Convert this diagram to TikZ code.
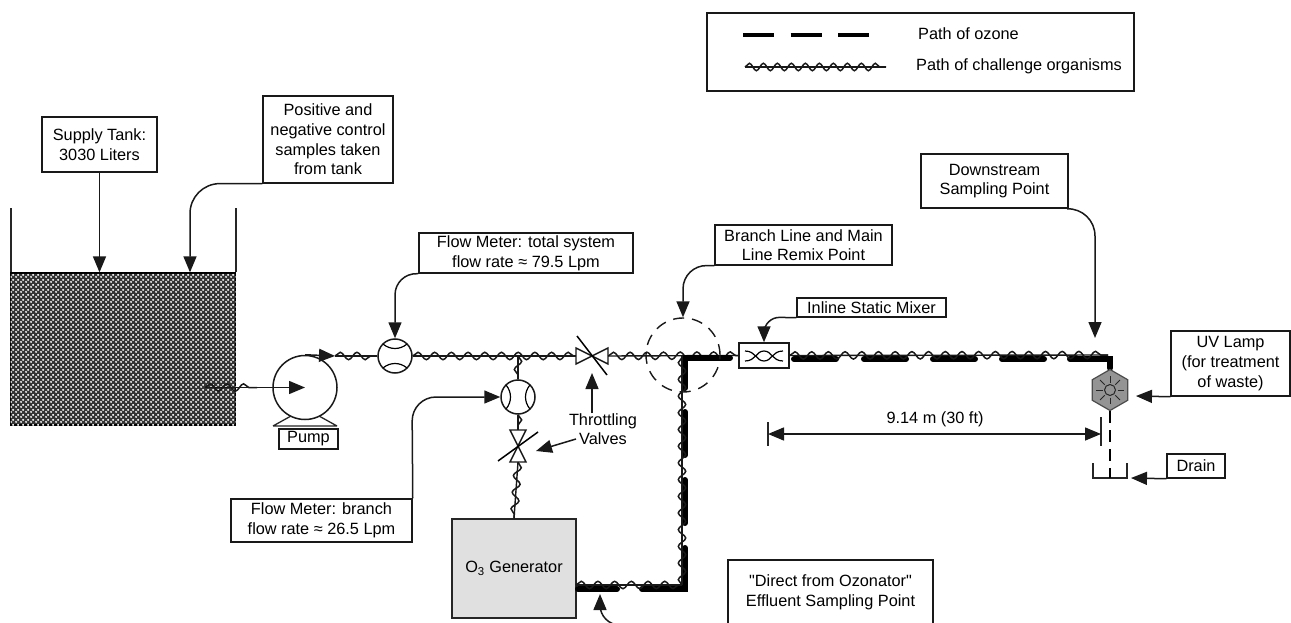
\documentclass[tikz,border=0pt]{standalone}
\usepackage{fontspec}
\setmainfont{Liberation Sans}
\newfontfamily\plainq{Liberation Sans}
\usetikzlibrary{arrows.meta,decorations.pathmorphing,patterns,shapes.geometric}
\pgfdeclarepatternformonly{tankchecks}{\pgfpointorigin}{\pgfqpoint{5pt}{5pt}}{\pgfqpoint{5pt}{5pt}}{%
  \pgfpathcircle{\pgfqpoint{1.25pt}{1.25pt}}{1.3pt}%
  \pgfpathcircle{\pgfqpoint{3.75pt}{3.75pt}}{1.3pt}%
  \pgfusepath{fill}}
\tikzset{
  lbl/.style={font=\fontsize{16.3}{19.6}\selectfont,align=center,inner sep=0pt,text=black},
  box/.style={lbl,draw=black!90,line width=1.5pt},
  arr/.style={line width=1.5pt,draw=black!90,-{Triangle[length=16pt,width=13pt]}},
  thinline/.style={line width=1.3pt,draw=black!85},
  wave/.style={line width=1.4pt,draw=black!90,postaction={draw,line width=1.5pt,decorate,decoration={snake,segment length=#1,amplitude=3.7pt}}},
  wave/.default=16.7pt,
  ozone/.style={line width=6pt,draw=black,line cap=round},
  valve/.style={line width=1.4pt,draw=black!90,fill=white},
  meter/.style={circle,draw=black!90,line width=1.5pt,fill=white,minimum size=34pt,inner sep=0pt},
}
\begin{document}
\begin{tikzpicture}[x=1pt,y=-1pt]
\useasboundingbox[fill=white] (0,0) rectangle (1291,623);
% legend
\node[box,minimum width=427pt,minimum height=78pt] (legend) at (920.5,52) {};
\coordinate (l1a) at (743,35); \coordinate (l1b) at (869,35);
\draw[line width=4.5pt,draw=black,dash pattern=on 31pt off 16.5pt] (l1a) -- (l1b);
\coordinate (l2a) at (745,67); \coordinate (l2b) at (886,67);
\draw[wave=14pt] (l2a) -- (l2b);
\node[lbl,anchor=west] (t1) at (918,34) {Path of ozone};
\node[lbl,anchor=west] (t2) at (916,66) {Path of challenge organisms};
% tank
\node[draw=black,line width=1.3pt,fill=black!80,postaction={pattern=tankchecks,pattern color=white},minimum width=225pt,minimum height=152pt,inner sep=0pt] (tank) at (123,349) {};
\coordinate (tl) at (11,208); \coordinate (tr) at (236,208);
\draw[thinline] (tl) -- (tl |- tank.north);
\draw[thinline] (tr) -- (tr |- tank.north);
% tank labels
\node[box,minimum width=115pt,minimum height=55pt] (supply) at (99.5,144.5) {Supply Tank:\\3030 Liters};
\draw[arr] (supply.south) -- (supply.south |- tank.north);
\node[box,minimum width=130pt,minimum height=87pt] (pos) at (328,139.5) {Positive and\\negative control\\samples taken\\from tank};
\coordinate (pc) at (190,183.5);
\draw[arr,rounded corners=30pt] (pos.south west) -- (pc) -- (pc |- tank.north);
% pump
\node[circle,draw=black!90,line width=1.5pt,minimum size=64pt,inner sep=0pt] (pump) at (305,387.5) {};
\draw[line width=1.3pt,draw=black!85] (273,426) -- (291,416) (319,416) -- (337,426) (273,426) -- (337,426);
\node[box,minimum width=59pt,minimum height=20pt] (pumpl) at (308.5,439) {Pump};
\coordinate (inl) at (205,387.5);
\coordinate (pi) at (257,387.5);
\draw[wave] (inl) -- (pi);
\draw[arr] (pi) -- (pump.center);
% main line
\coordinate (po) at (335,356);
\node[meter] (m1) at (395,356) {};
\begin{scope}[shift={(395,356)}]
\draw[line width=1.2pt] (-12,-12) .. controls (-5,-6) and (5,-6) .. (12,-12);
\draw[line width=1.2pt] (-12,12) .. controls (-5,6) and (5,6) .. (12,12);
\end{scope}
\draw[arr] (pump.north) -- (po);
\draw[wave] (po) -- (m1.west);
\node[inner sep=0pt,minimum size=32pt] (v1) at (592,356) {};
\draw[wave] (m1.east) -- (v1.west);
\draw[valve] (576,348) -- (576,364) -- (592,356) -- cycle;
\draw[valve] (608,348) -- (608,364) -- (592,356) -- cycle;
\draw[line width=1.5pt] (577,336) -- (607,375);
\node[draw=black!90,line width=1.5pt,fill=white,minimum width=50pt,minimum height=25pt,inner sep=0pt] (mix) at (764,355.5) {};
\begin{scope}[shift={(764,356)}]
\draw[line width=1.2pt] (-19,-5) .. controls (-8,-5) and (-8,5) .. (0,5) .. controls (8,5) and (8,-5) .. (19,-5);
\draw[line width=1.2pt] (-19,5) .. controls (-8,5) and (-8,-5) .. (0,-5) .. controls (8,-5) and (8,5) .. (19,5);
\end{scope}
\draw[wave] (v1.east) -- (mix.west);
\coordinate (mend) at (1108,355);
% ozone main
\coordinate (oz1) at (1110,359);
\draw[ozone] (794,359) -- (836,359);
\draw[ozone] (864,359) -- (906,359);
\draw[ozone] (933,359) -- (975,359);
\draw[ozone] (1002,359) -- (1044,359);
\draw[ozone] (1070,359) -- (oz1) -- (1110,368);
\draw[wave] (mix.east) -- (mend);
% branch
\coordinate (bj) at (518,356);
\node[meter] (m2) at (518,397) {};
\begin{scope}[shift={(518,397)}]
\draw[line width=1.2pt] (-12,-12) .. controls (-6,-5) and (-6,5) .. (-12,12);
\draw[line width=1.2pt] (12,-12) .. controls (6,-5) and (6,5) .. (12,12);
\end{scope}
\draw[wave] (bj) -- (m2.north);
\node[inner sep=0pt,minimum size=32pt] (v2) at (518,446) {};
\draw[wave] (m2.south) -- (v2.north);
\draw[valve] (510,430) -- (526,430) -- (518,446) -- cycle;
\draw[valve] (510,462) -- (526,462) -- (518,446) -- cycle;
\draw[line width=1.5pt] (498,461) -- (538,432);
% O3 generator
\node[draw=black!85,line width=1.5pt,fill=black!12,lbl,minimum width=124pt,minimum height=99pt] (gen) at (514,568.5) {O\textsubscript{3} Generator};
\draw[wave] (v2.south) -- (gen.north);
% ozone return
\coordinate (gw) at (576,585);
\coordinate (wc) at (682,585);
\coordinate (wj) at (682,356);
\draw[ozone] (685,358) -- (730,358);
\draw[ozone] (685,358) -- (685,388);
\draw[ozone] (685,412) -- (685,455);
\draw[ozone] (685,480) -- (685,523);
\draw[ozone] (685,548) -- (685,589) -- (642,589);
\draw[ozone] (578,589) -- (617,589);
\draw[wave] (gw) -- (wc);
\draw[wave] (wc) -- (wj);
% remix
\node[circle,draw=black!90,line width=1.4pt,dash pattern=on 11pt off 8pt,minimum size=74pt,inner sep=0pt] (rem) at (683,355) {};
% labels
\node[box,minimum width=214pt,minimum height=40pt] (fm1) at (526,253) {Flow Meter: total system\\flow rate ≈ 79.5 Lpm};
\coordinate (c1) at (395,273);
\draw[arr,rounded corners=22pt] (fm1.south west) -- (c1) -- (m1.north);
\node[box,minimum width=181pt,minimum height=43pt] (fm2) at (321.5,520.5) {Flow Meter: branch\\flow rate ≈ 26.5 Lpm};
\coordinate (c2) at (412,397);
\draw[arr,rounded corners=24pt] (fm2.north east) -- (c2) -- (m2.west);
\node[box,minimum width=177pt,minimum height=40pt] (rl) at (803.5,245) {Branch Line and Main\\Line Remix Point};
\coordinate (c3) at (683,265);
\draw[arr,rounded corners=24pt] (rl.south west) -- (c3) -- (rem.north);
\node[box,minimum width=149pt,minimum height=19pt] (ml) at (871.5,307.5) {Inline Static Mixer};
\coordinate (c4) at (764,317);
\draw[arr,rounded corners=16pt] (ml.south west) -- (c4) -- (mix.north);
\node[lbl] (thr) at (603,429) {Throttling\\Valves};
\coordinate (thA) at (592,413); \coordinate (thB) at (592,373);
\draw[arr] (thA) -- (thB);
\coordinate (thC) at (576,439); \coordinate (thD) at (536,451);
\draw[arr] (thC) -- (thD);
\node[box,minimum width=205pt,minimum height=65pt] (direct) at (830.5,592.5) {{\plainq"}Direct from Ozonator{\plainq"}\\Effluent Sampling Point};
\coordinate (c5) at (600,625); \coordinate (oztip) at (600,594);
\draw[arr,rounded corners=20pt] (direct.south west) -- (c5) -- (oztip);
% downstream
\node[box,minimum width=147pt,minimum height=54pt] (ds) at (994.5,181) {Downstream\\Sampling Point};
\coordinate (c6) at (1095,208); \coordinate (dst) at (1095,338);
\draw[arr,rounded corners=28pt] (ds.south east) -- (c6) -- (dst);
% lamp
\node[regular polygon,regular polygon sides=6,shape border rotate=30,draw=black!70,line width=1.2pt,fill=black!42,minimum size=41pt,inner sep=0pt] (lamp) at (1110,390) {};
\draw[line width=1.6pt,draw=black] (oz1) -- (lamp.north);
\begin{scope}[shift={(1110,390)}]
\draw[line width=1pt,draw=black!85] (0,0) circle (5.5);
\foreach \a in {0,45,...,315} \draw[line width=1pt,draw=black!85] (\a:7.5) -- (\a:14);
\end{scope}
\node[box,minimum width=119pt,minimum height=65pt] (uv) at (1230.5,363.5) {UV Lamp\\(for treatment\\of waste)};
\coordinate (uvt) at (1136,396);
\draw[arr] (uv.south west) -- (uvt);
\node[box,minimum width=58pt,minimum height=24pt] (dr) at (1196,466) {Drain};
\coordinate (drt) at (1131,478);
\draw[arr] (dr.south west) -- (drt);
\coordinate (ba) at (1093,463); \coordinate (bb) at (1093,478); \coordinate (bc) at (1127,478); \coordinate (bd) at (1127,463);
\draw[thinline] (ba) -- (bb) -- (bc) -- (bd);
\coordinate (bm) at (1110,478);
\draw[line width=1.3pt,dash pattern=on 12pt off 7pt] (lamp.south) -- (bm);
% dimension
\coordinate (dl) at (768,434); \coordinate (dr2) at (1101,434);
\draw[thinline] (768,422) -- (768,446);
\draw[thinline] (1101,417) -- (1101,446);
\draw[line width=1.5pt,draw=black!90,{Triangle[length=16pt,width=13pt]}-{Triangle[length=16pt,width=13pt]}] (dl) -- (dr2);
\node[lbl] (dim) at (935,419) {9.14 m (30 ft)};
\end{tikzpicture}
\end{document}
